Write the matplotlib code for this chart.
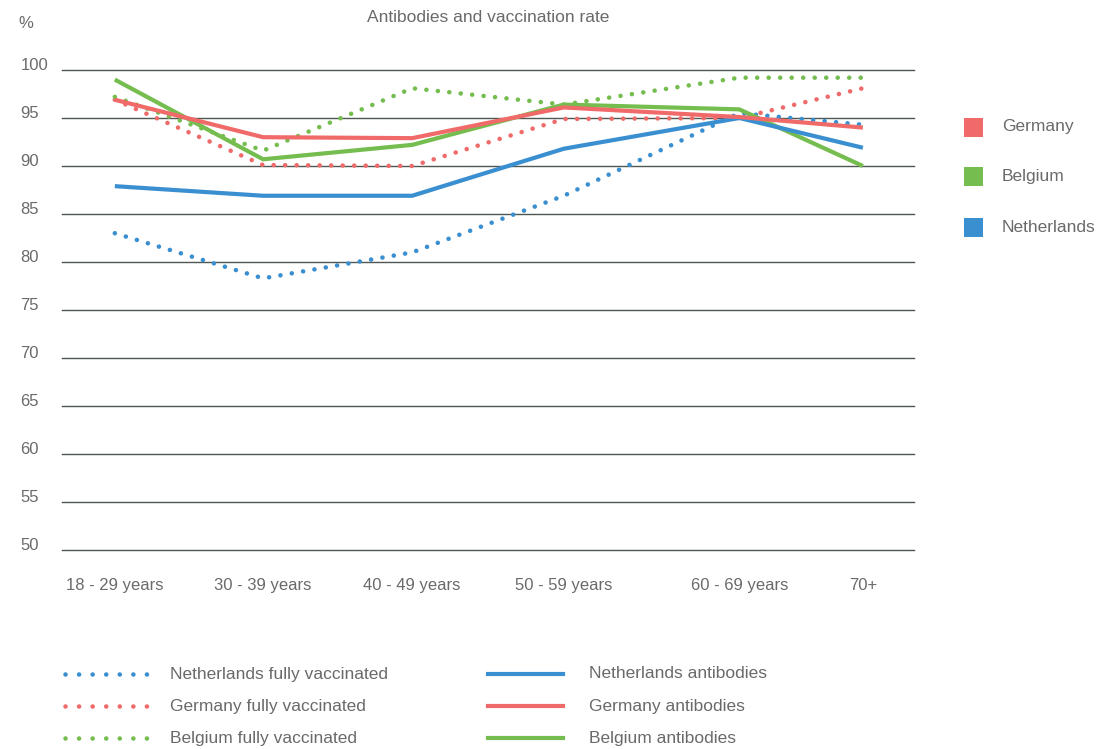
import matplotlib
matplotlib.use("Agg")
import matplotlib.pyplot as plt
from matplotlib.lines import Line2D
from matplotlib.patches import Rectangle
from matplotlib.transforms import ScaledTranslation

plt.rcParams["font.family"] = ["Liberation Sans", "DejaVu Sans"]

AGE_GROUPS = ["18 - 29 years", "30 - 39 years", "40 - 49 years",
              "50 - 59 years", "60 - 69 years", "70+"]
# category centres on the axis (0..1), the source chart spaces them unevenly
X_POS = [0.062, 0.236, 0.411, 0.589, 0.795, 0.940]

nl_vaccinated = [83.0, 78.3, 81.0, 86.9, 95.5, 94.3]
de_vaccinated = [96.9, 90.1, 90.0, 94.9, 95.0, 98.1]
be_vaccinated = [97.2, 91.6, 98.1, 96.4, 99.2, 99.2]
nl_antibodies = [87.9, 86.9, 86.9, 91.8, 95.0, 91.9]
de_antibodies = [96.9, 93.0, 92.9, 96.1, 95.1, 94.0]
be_antibodies = [99.0, 90.7, 92.2, 96.4, 95.9, 90.0]

Y_TICKS = [50, 55, 60, 65, 70, 75, 80, 85, 90, 95, 100]

BLUE = "#3a8fd1"
RED = "#f06a6a"
GREEN = "#75bd4e"
TEXT = "#6a6a6a"
GRID = "#4f5752"

W, H = 1104, 749
fig = plt.figure(figsize=(W / 100, H / 100), dpi=100)
ax = fig.add_axes([62 / W, 1 - 550 / H, 852 / W, 480 / H])
ax.set_xlim(0, 1)
ax.set_ylim(50, 100)
for s in ax.spines.values():
    s.set_visible(False)

for y in Y_TICKS:
    ax.axhline(y, color=GRID, lw=1.0, zorder=1, clip_on=False)

dot_style = dict(lw=3.3, linestyle=(0, (0.01, 2.5)), dash_capstyle="round",
                 clip_on=False, zorder=3)
solid_style = dict(lw=3.0, solid_capstyle="butt", solid_joinstyle="round",
                   clip_on=False, zorder=4)

ax.plot(X_POS, nl_vaccinated, color=BLUE, **dot_style)
ax.plot(X_POS, de_vaccinated, color=RED, **dot_style)
ax.plot(X_POS, be_vaccinated, color=GREEN, **dot_style)
ax.plot(X_POS, be_antibodies, color=GREEN, **solid_style)
ax.plot(X_POS, nl_antibodies, color=BLUE, **solid_style)
ax.plot(X_POS, de_antibodies, color=RED, **solid_style)

ax.set_xticks(X_POS)
ax.set_xticklabels(AGE_GROUPS, fontsize=12, color=TEXT)
ax.tick_params(axis="x", length=0, pad=20)

ax.set_yticks(Y_TICKS)
ax.set_yticklabels([str(v) for v in Y_TICKS], fontsize=12, color=TEXT, ha="left")
ax.tick_params(axis="y", length=0, pad=30)
for lab in ax.get_yticklabels():
    lab.set_transform(lab.get_transform() + ScaledTranslation(0, 4 / 72, fig.dpi_scale_trans))

# overlay in pixel coordinates for the titles and legends
ov = fig.add_axes([0, 0, 1, 1], facecolor="none")
ov.set_xlim(0, W)
ov.set_ylim(H, 0)
ov.axis("off")

ov.text(18, 23, "%", fontsize=12, color=TEXT, va="center", ha="left")
ov.text(488, 17, "Antibodies and vaccination rate", fontsize=12.5,
        color=TEXT, va="center", ha="center")

# right legend (countries)
for name, col, yc in [("Germany", RED, 127), ("Belgium", GREEN, 176),
                      ("Netherlands", BLUE, 227)]:
    ov.add_patch(Rectangle((964, yc - 9.5), 19, 19, color=col, lw=0))
    ov.text(1002, yc, name, fontsize=12.5, color=TEXT, va="center", ha="left")

# bottom legend
rows = [674, 706, 738]
vacc = [("Netherlands fully vaccinated", BLUE), ("Germany fully vaccinated", RED),
        ("Belgium fully vaccinated", GREEN)]
anti = [("Netherlands antibodies", BLUE), ("Germany antibodies", RED),
        ("Belgium antibodies", GREEN)]
for yc, (lab, col) in zip(rows, vacc):
    ov.add_line(Line2D([65, 147], [yc, yc], color=col, lw=3.3,
                       linestyle=(0, (0.01, 2.95)), dash_capstyle="round"))
    ov.text(170, yc, lab, fontsize=12.5, color=TEXT, va="center", ha="left")
for yc, (lab, col) in zip(rows, anti):
    ov.add_line(Line2D([488, 563], [yc, yc], color=col, lw=3.0))
    ov.text(589, yc, lab, fontsize=12.5, color=TEXT, va="center", ha="left")

fig.savefig("out.png", dpi=100)
